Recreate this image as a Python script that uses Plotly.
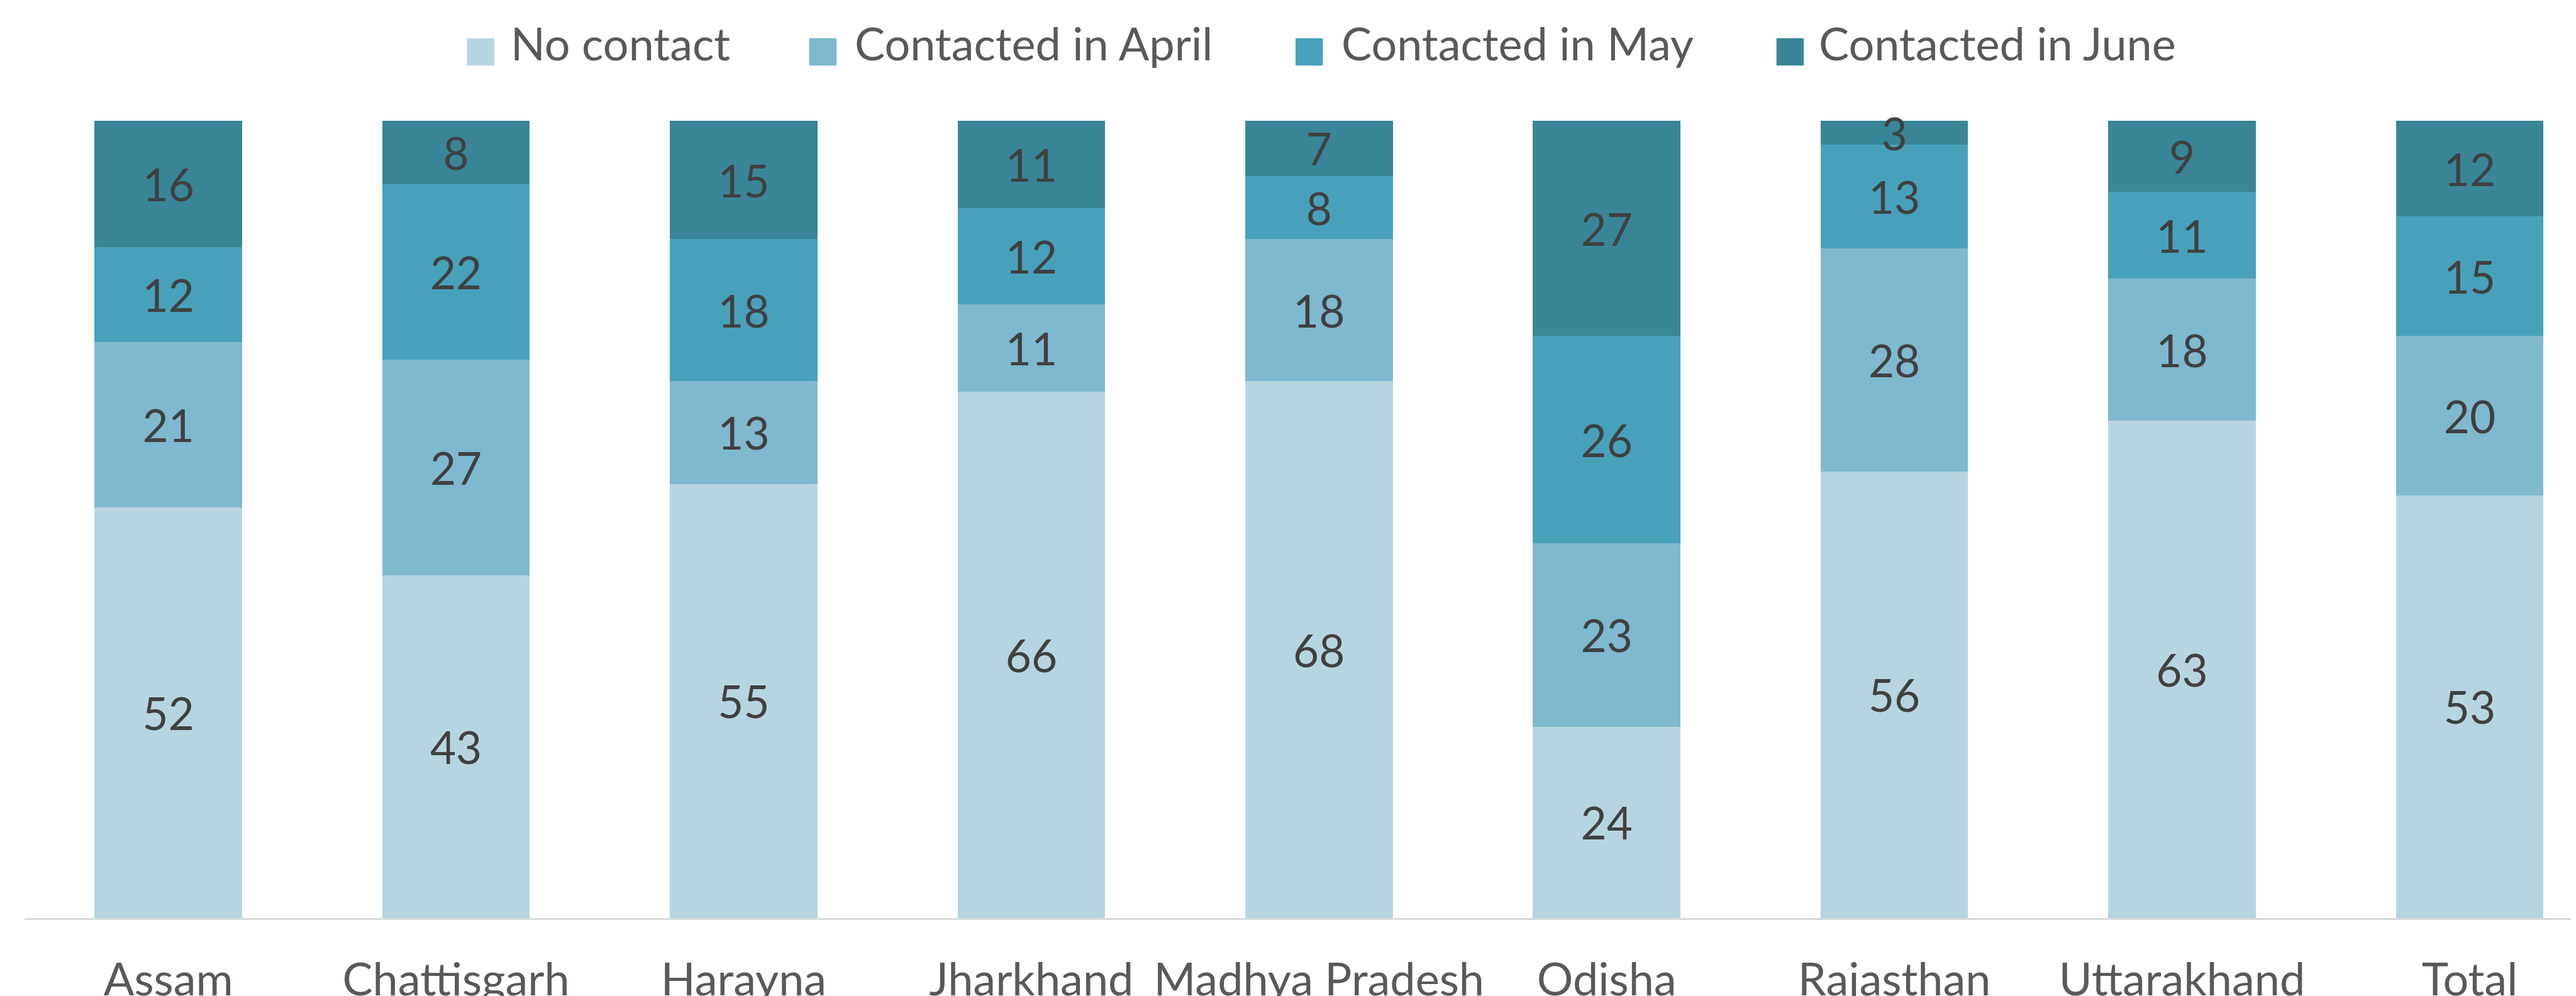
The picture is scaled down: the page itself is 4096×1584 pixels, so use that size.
import plotly.graph_objects as go

categories = ["Assam", "Chattisgarh", "Harayna", "Jharkhand", "Madhya Pradesh",
              "Odisha", "Rajasthan", "Uttarakhand", "Total"]
series_names = ["No contact", "Contacted in April", "Contacted in May", "Contacted in June"]
no_contact = [52, 43, 55, 66, 68, 24, 56, 63, 53]
april = [21, 27, 13, 11, 18, 23, 28, 18, 20]
may = [12, 22, 18, 12, 8, 26, 13, 11, 15]
june = [16, 8, 15, 11, 7, 27, 3, 9, 12]
series_values = [no_contact, april, may, june]
colors = ["#B7D5E0", "#7FB9CF", "#48A1BA", "#398698"]

W, H = 4096, 1584
ML, MR, MT, MB = 31, 0, 184, 132
FONT = "Lato, 'Open Sans', sans-serif"

fig = go.Figure()
for name, vals, col in zip(series_names, series_values, colors):
    fig.add_trace(go.Bar(
        x=categories, y=vals, name=name,
        marker=dict(color=col, line=dict(width=0)),
        text=vals, texttemplate="%{text}", textposition="inside",
        insidetextanchor="middle", constraintext="none", textangle=0,
        textfont=dict(family=FONT, size=71, color="#404040"),
        showlegend=False, cliponaxis=False,
    ))

pw = W - ML - MR
ph = H - MT - MB
def px_x(px):
    return (px - ML) / pw
def px_y(py):
    return (H - MB - py) / ph

sq_left = [734.6, 1278.7, 2052.0, 2816.7]
txt_left = [801.6, 1349.0, 2123.0, 2882.0]
sq = 43.4
sq_top = 52.8
shapes = []
annotations = []
for i, name in enumerate(series_names):
    shapes.append(dict(type="rect", xref="paper", yref="paper",
                       x0=px_x(sq_left[i]), x1=px_x(sq_left[i] + sq),
                       y0=px_y(sq_top + sq), y1=px_y(sq_top),
                       fillcolor=colors[i], line=dict(width=0)))
    annotations.append(dict(xref="paper", yref="paper", x=px_x(txt_left[i]),
                            y=px_y(60), xanchor="left", yanchor="middle",
                            text=name, showarrow=False,
                            font=dict(family=FONT, size=72, color="#595959")))

fig.update_layout(
    template="none",
    width=W, height=H, autosize=False,
    margin=dict(l=ML, r=MR, t=MT, b=MB, pad=0),
    barmode="stack", barnorm="percent", bargap=0.487,
    plot_bgcolor="white", paper_bgcolor="white",
    shapes=shapes, annotations=annotations,
    showlegend=False,
    xaxis=dict(range=[-0.5, -0.5 + pw / 457.4], showline=True, linecolor="#D9D9D9",
               linewidth=3, ticks="", showgrid=False, zeroline=False,
               automargin=False,
               tickfont=dict(family=FONT, size=72, color="#595959"),
               ticklabelstandoff=34),
    yaxis=dict(range=[0, 100], visible=False, showgrid=False, zeroline=False,
               automargin=False),
    font=dict(family=FONT),
)

fig.write_html("out.html")
